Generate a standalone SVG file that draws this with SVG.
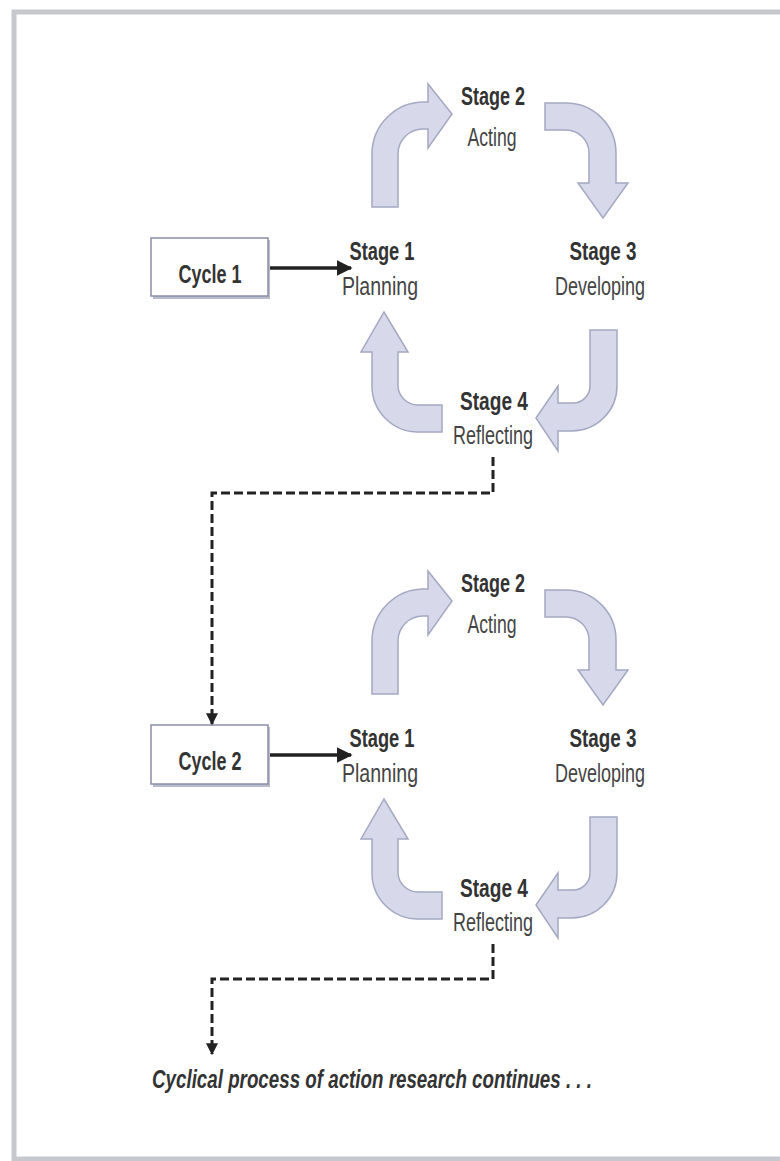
<svg xmlns="http://www.w3.org/2000/svg" width="780" height="1161" viewBox="0 0 780 1161">
<defs>
<style>
.arc{fill:#d7d9ea;stroke:#a4a8c2;stroke-width:1.5;stroke-linejoin:miter}
.box{fill:#ffffff;stroke:#8a8ea8;stroke-width:1.5}
.shadow{fill:#b9bccb}
.st{font-family:"Liberation Sans",Arial,sans-serif;font-weight:bold;font-size:26px;fill:#333;text-anchor:middle}
.sub{font-family:"Liberation Sans",Arial,sans-serif;font-size:26px;fill:#444;text-anchor:middle}
.cyc{font-family:"Liberation Sans",Arial,sans-serif;font-weight:bold;font-size:26px;fill:#333;text-anchor:middle}
.solid{stroke:#222;stroke-width:3.5;fill:none}
.dash{stroke:#222;stroke-width:3;fill:none;stroke-dasharray:9 4}
.note{font-family:"Liberation Sans",Arial,sans-serif;font-weight:bold;font-style:italic;font-size:25px;fill:#333}
</style>
<marker id="ah" viewBox="0 0 10 10" refX="9" refY="5" markerWidth="4.5" markerHeight="4.5" markerUnits="strokeWidth" orient="auto">
<path d="M0,0 L10,5 L0,10 Z" fill="#222"/>
</marker>
<marker id="ahd" viewBox="0 0 10 10" refX="9" refY="5" markerWidth="4.5" markerHeight="4" markerUnits="strokeWidth" orient="auto">
<path d="M0,0 L10,5 L0,10 Z" fill="#222"/>
</marker>
</defs>
<rect x="0" y="0" width="780" height="1161" fill="#ffffff"/>
<rect x="14" y="12" width="790" height="1147" fill="#ffffff" stroke="#c6c8ce" stroke-width="5"/>

<g id="cycle1-diagram">
  <g id="cycle1">
    <rect class="shadow" x="153" y="240" width="117" height="59"/>
    <rect class="box" x="151" y="238" width="117" height="58"/>
    <text class="cyc" x="210" y="283" textLength="63" lengthAdjust="spacingAndGlyphs">Cycle 1</text>
  </g>
  <g id="c1-stage1">
    <text class="st" x="382" y="260" textLength="65" lengthAdjust="spacingAndGlyphs">Stage 1</text>
    <text class="sub" x="380" y="295" textLength="76" lengthAdjust="spacingAndGlyphs">Planning</text>
  </g>
  <g id="c1-stage2">
    <text class="st" x="493" y="105" textLength="64" lengthAdjust="spacingAndGlyphs">Stage 2</text>
    <text class="sub" x="492" y="146" textLength="49" lengthAdjust="spacingAndGlyphs">Acting</text>
  </g>
  <g id="c1-stage3">
    <text class="st" x="603" y="260" textLength="67" lengthAdjust="spacingAndGlyphs">Stage 3</text>
    <text class="sub" x="600" y="295" textLength="90" lengthAdjust="spacingAndGlyphs">Developing</text>
  </g>
  <g id="c1-stage4">
    <text class="st" x="494" y="410" textLength="68" lengthAdjust="spacingAndGlyphs">Stage 4</text>
    <text class="sub" x="493" y="444" textLength="80" lengthAdjust="spacingAndGlyphs">Reflecting</text>
  </g>
  <g id="c1-cycle-arrows">
    <path class="arc" d="M372,207 L372,154 A52,52 0 0 1 424,102 L428,102 L428,84 L452,114 L428,148 L428,129 L424,129 A25,25 0 0 0 398,154 L398,207 Z"/>
    <path class="arc" d="M545,103 L566,103 A50,50 0 0 1 616,153 L616,183 L628,183 L603,218 L578,183 L589,183 L589,153 A23,23 0 0 0 566,130 L545,130 Z"/>
    <path class="arc" d="M617,330 L617,386 A45,45 0 0 1 572,431 L558,431 L558,451 L536,418 L558,386 L558,403 L572,403 A17,17 0 0 0 590,386 L590,330 Z"/>
    <path class="arc" d="M442,432 L418,432 A46,46 0 0 1 372,386 L372,352 L361,352 L384,312 L408,352 L398,352 L398,386 A20,20 0 0 0 418,405 L442,405 Z"/>
  </g>
</g>

<g id="cycle2-diagram">
  <g id="cycle2">
    <rect class="shadow" x="153" y="727" width="117" height="60"/>
    <rect class="box" x="151" y="725" width="117" height="59"/>
    <text class="cyc" x="210" y="770" textLength="63" lengthAdjust="spacingAndGlyphs">Cycle 2</text>
  </g>
  <g id="c2-stage1">
    <text class="st" x="382" y="747" textLength="65" lengthAdjust="spacingAndGlyphs">Stage 1</text>
    <text class="sub" x="380" y="782" textLength="76" lengthAdjust="spacingAndGlyphs">Planning</text>
  </g>
  <g id="c2-stage2">
    <text class="st" x="493" y="592" textLength="64" lengthAdjust="spacingAndGlyphs">Stage 2</text>
    <text class="sub" x="492" y="633" textLength="49" lengthAdjust="spacingAndGlyphs">Acting</text>
  </g>
  <g id="c2-stage3">
    <text class="st" x="603" y="747" textLength="67" lengthAdjust="spacingAndGlyphs">Stage 3</text>
    <text class="sub" x="600" y="782" textLength="90" lengthAdjust="spacingAndGlyphs">Developing</text>
  </g>
  <g id="c2-stage4">
    <text class="st" x="494" y="897" textLength="68" lengthAdjust="spacingAndGlyphs">Stage 4</text>
    <text class="sub" x="493" y="931" textLength="80" lengthAdjust="spacingAndGlyphs">Reflecting</text>
  </g>
  <g id="c2-cycle-arrows" transform="translate(0,487)">
    <path class="arc" d="M372,207 L372,154 A52,52 0 0 1 424,102 L428,102 L428,84 L452,114 L428,148 L428,129 L424,129 A25,25 0 0 0 398,154 L398,207 Z"/>
    <path class="arc" d="M545,103 L566,103 A50,50 0 0 1 616,153 L616,183 L628,183 L603,218 L578,183 L589,183 L589,153 A23,23 0 0 0 566,130 L545,130 Z"/>
    <path class="arc" d="M617,330 L617,386 A45,45 0 0 1 572,431 L558,431 L558,451 L536,418 L558,386 L558,403 L572,403 A17,17 0 0 0 590,386 L590,330 Z"/>
    <path class="arc" d="M442,432 L418,432 A46,46 0 0 1 372,386 L372,352 L361,352 L384,312 L408,352 L398,352 L398,386 A20,20 0 0 0 418,405 L442,405 Z"/>
  </g>
</g>

<g id="connectors">
  <path class="solid" d="M270,268 L351,268" marker-end="url(#ah)"/>
  <path class="solid" d="M270,755 L351,755" marker-end="url(#ah)"/>
  <path class="dash" d="M493,457 L493,493 L212,493 L212,724" marker-end="url(#ahd)"/>
  <path class="dash" d="M493,944 L493,979 L212,979 L212,1054" marker-end="url(#ahd)"/>
</g>

<g id="caption">
  <text class="note" x="152" y="1088" textLength="440" lengthAdjust="spacingAndGlyphs">Cyclical process of action research continues . . .</text>
</g>
</svg>
